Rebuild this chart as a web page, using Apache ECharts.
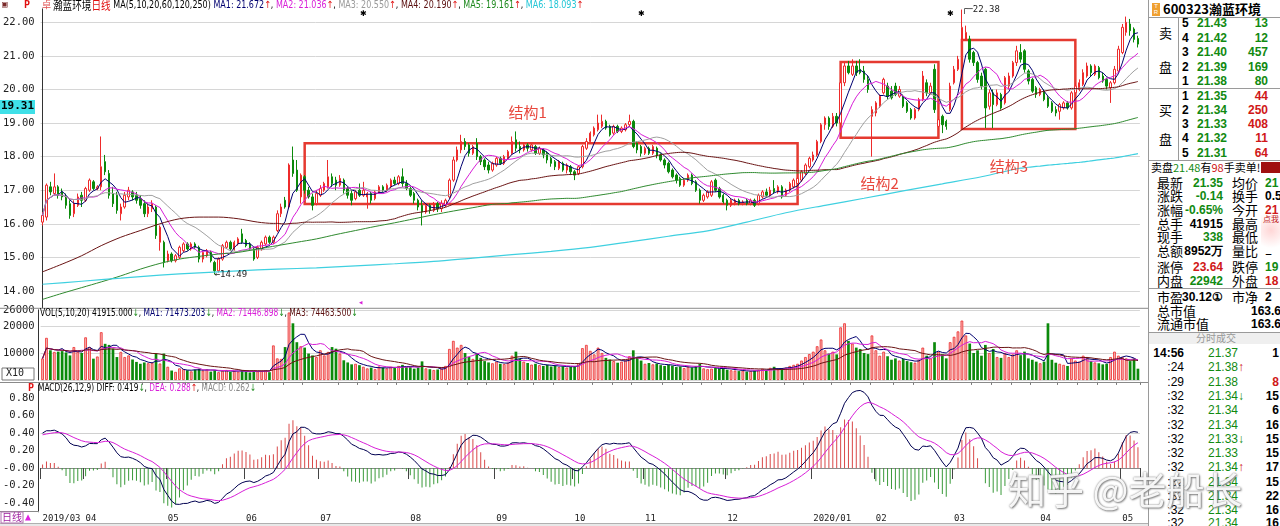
<!DOCTYPE html>
<html>
<head>
<meta charset="utf-8">
<script src="https://cdn.jsdelivr.net/npm/echarts@6.0.0/dist/echarts.min.js"></script>
<style>
*{box-sizing:border-box}
html,body{margin:0;padding:0;width:1280px;height:526px;overflow:hidden;background:#fff}
#chart{position:absolute;left:0;top:0;width:1148px;height:526px}
#side{position:absolute;left:1148px;top:0;width:132px;height:526px;overflow:hidden;border-left:1px solid #9a9a9a;background:#fff;color:#000}
#side .t{position:absolute;white-space:nowrap;line-height:14px;height:14px}
.num{font-family:"Liberation Sans",Arial,sans-serif;font-weight:bold;font-size:12px}
.cjk{font-family:"Noto Sans CJK SC",sans-serif;font-size:13px}
.sm{font-family:"Noto Sans CJK SC",sans-serif;font-size:11px}
#wm{position:absolute;left:1008px;top:460px;font-family:"Noto Sans CJK SC",sans-serif;font-size:38px;color:rgba(255,255,255,0.93);text-shadow:0 0 2px #777,1px 1px 2px #888;white-space:nowrap;z-index:10}
</style>
</head>
<body>
<div id="chart"></div>
<div id="side"></div>
<div id="wm">知乎 @老船长</div>
<script>
// ---------------- DATA ----------------
const months = ['2019/03','04','05','06','07','08','09','10','11','12','2020/01','02','03','04','05'];
const monthDays = [11,21,20,19,23,22,20,18,21,22,16,20,22,21,5];

// [open, close, low, high]
const candles = [
[16.05,16.25,15.95,16.35],[16.2,17.15,16.1,17.2],[17.1,16.95,16.85,17.25],[16.9,17.1,16.85,17.5],[17.1,16.85,16.75,17.15],
[16.95,16.8,16.7,17.05],[16.8,16.55,16.45,16.9],[16.6,16.25,16.15,16.7],[16.3,16.6,16.2,16.7],[16.55,16.8,16.5,16.9],
[16.85,16.7,16.5,16.95],[16.7,17.05,16.65,17.1],[17.0,17.3,16.95,17.35],[17.25,17.05,17.0,17.3],[17.05,17.1,17.0,17.15],
[17.1,17.7,17.0,18.6],[17.85,17.55,17.45,18.05],[17.5,16.85,16.75,17.6],[16.9,16.6,16.5,17.1],[16.85,16.4,16.3,16.95],
[16.3,16.5,16.1,16.6],[16.5,16.85,16.45,16.95],[16.8,17.0,16.7,17.1],[16.95,16.8,16.7,17.0],[16.85,16.7,16.6,16.95],
[16.75,16.55,16.45,16.85],[16.6,16.3,16.2,16.7],[16.3,16.5,16.2,16.6],[16.45,16.6,16.35,16.7],[16.5,15.65,15.55,16.55],
[15.45,15.9,15.2,15.95],[15.45,14.85,14.7,15.5],[14.9,15.1,14.85,15.2],[15.1,14.9,14.85,15.15],[14.9,15.05,14.85,15.1],
[15.0,15.3,14.95,15.35],[15.2,15.4,15.15,15.45],[15.4,15.25,15.2,15.45],[15.25,15.4,15.2,15.45],[15.4,15.3,15.25,15.45],
[15.3,14.95,14.85,15.35],[14.95,15.15,14.85,15.2],[15.05,15.2,15.0,15.25],[15.15,14.9,14.85,15.2],[14.85,14.6,14.49,14.9],
[14.6,14.95,14.55,15.0],[14.95,15.35,14.9,15.4],[15.3,15.45,15.25,15.5],[15.45,15.25,15.2,15.5],[15.25,15.45,15.2,15.5],
[15.4,15.55,15.35,15.6],[15.7,15.45,15.4,15.85],[15.5,15.35,15.3,15.55],[15.4,15.25,15.2,15.45],[15.25,14.95,14.9,15.3],
[15.0,15.3,14.95,15.35],[15.25,15.45,15.2,15.5],[15.4,15.6,15.35,15.65],[15.6,15.45,15.4,15.65],[15.45,15.6,15.4,15.65],
[15.8,16.3,15.75,16.4],[16.3,16.5,16.2,16.6],[16.7,16.5,16.45,16.8],[16.5,17.75,16.45,17.8],[17.9,17.5,17.4,18.3],
[17.6,17.0,16.95,17.9],[16.8,17.45,16.6,17.5],[17.4,17.0,16.9,17.45],[17.0,16.8,16.75,17.1],[16.8,16.55,16.4,16.9],
[16.6,16.9,16.55,17.0],[16.85,17.05,16.8,17.15],[17.0,17.2,16.95,17.25],[17.1,17.4,17.05,17.9],[17.4,17.2,17.1,17.5],
[17.3,17.15,17.0,17.4],[17.15,17.35,17.1,17.45],[17.3,17.0,16.9,17.35],[17.05,16.85,16.75,17.1],[16.9,16.7,16.55,17.0],
[16.75,16.95,16.7,17.0],[17.0,16.85,16.8,17.2],[16.85,17.0,16.8,17.25],[16.8,16.9,16.45,16.95],[16.9,16.7,16.6,16.95],
[16.75,16.95,16.7,17.0],[16.95,17.1,16.9,17.15],[17.1,17.0,16.95,17.15],[17.0,17.15,16.95,17.2],[17.1,17.3,17.05,17.35],
[17.3,17.2,17.15,17.4],[17.2,17.4,17.15,17.45],[17.4,17.2,17.1,17.65],[17.2,17.05,17.0,17.3],[17.05,16.85,16.8,17.1],
[16.9,16.7,16.6,16.95],[16.7,16.5,16.4,16.75],[16.55,16.35,15.95,16.7],[16.35,16.55,16.3,16.6],[16.55,16.4,16.3,16.6],
[16.4,16.6,16.35,16.65],[16.6,16.45,16.35,16.65],[16.45,16.6,16.35,16.7],[16.55,16.7,16.5,16.75],[16.8,17.3,16.75,17.35],
[17.3,17.9,17.25,18.0],[17.9,18.2,17.85,18.3],[18.2,18.45,18.1,18.65],[18.45,18.3,18.2,18.55],[18.35,18.1,18.0,18.4],
[18.1,18.3,18.05,18.35],[18.4,18.0,17.9,18.55],[18.0,17.85,17.75,18.05],[17.9,17.7,17.6,17.95],[17.75,17.6,17.5,17.85],
[17.6,17.8,17.55,17.85],[17.75,17.95,17.7,18.0],[17.95,17.8,17.75,18.0],[17.8,18.0,17.75,18.05],[17.95,18.15,17.9,18.2],
[18.1,18.45,18.05,18.6],[18.5,18.25,18.15,18.75],[18.3,18.2,18.1,18.45],[18.2,18.35,18.15,18.4],[18.35,18.25,18.15,18.4],
[18.2,18.35,18.15,18.4],[18.3,18.1,18.05,18.35],[18.1,18.25,18.05,18.3],[18.2,18.05,17.95,18.25],[18.1,17.9,17.8,18.15],
[17.95,17.8,17.7,18.0],[17.85,17.7,17.6,17.9],[17.65,17.85,17.6,17.9],[17.8,17.6,17.55,17.85],[17.6,17.75,17.5,17.8],
[17.7,17.55,17.45,17.75],[17.55,17.45,17.3,17.6],[17.5,17.7,17.45,17.75],[17.7,18.3,17.65,18.35],[18.25,18.45,18.2,18.55],
[18.45,18.7,18.4,18.75],[18.65,18.85,18.6,18.9],[18.8,19.0,18.75,19.25],[18.9,19.05,18.85,19.25],[19.05,18.85,18.8,19.1],
[18.9,18.65,18.6,18.95],[18.7,18.9,18.65,18.95],[18.9,18.75,18.7,18.95],[18.75,18.85,18.7,18.9],[18.8,18.95,18.75,19.0],
[18.95,19.05,18.9,19.25],[19.05,18.3,18.25,19.1],[18.4,18.2,18.1,18.45],[18.3,18.1,18.0,18.35],[18.1,18.25,18.05,18.3],
[18.25,18.1,18.05,18.3],[18.1,18.3,18.05,18.35],[18.25,18.05,17.95,18.3],[18.05,17.9,17.85,18.1],[17.9,17.75,17.65,17.95],
[17.8,17.55,17.5,17.85],[17.6,17.4,17.35,17.65],[17.45,17.3,17.2,17.5],[17.35,17.15,17.1,17.4],[17.15,17.3,17.1,17.35],
[17.3,17.45,17.25,17.5],[17.45,17.2,17.15,17.5],[17.25,17.0,16.95,17.3],[17.0,16.7,16.6,17.05],[16.7,16.85,16.65,16.9],
[16.8,16.95,16.75,17.0],[16.85,17.25,16.8,17.3],[17.3,17.0,16.95,17.35],[17.05,16.8,16.75,17.1],[16.85,16.65,16.6,16.9],
[16.7,16.55,16.4,16.75],[16.55,16.7,16.5,16.75],[16.6,16.7,16.55,16.75],[16.7,16.6,16.55,16.75],[16.6,16.65,16.55,16.7],
[16.7,16.6,16.55,16.75],[16.6,16.7,16.55,16.75],[16.7,16.55,16.5,16.75],[16.6,16.85,16.55,16.9],[16.8,16.95,16.75,17.0],
[16.95,16.85,16.8,17.05],[16.85,17.0,16.8,17.1],[17.05,16.95,16.9,17.3],[16.95,17.1,16.9,17.15],[17.1,16.8,16.75,17.15],
[16.85,17.0,16.8,17.05],[17.0,17.2,16.95,17.25],[17.1,17.3,17.05,17.35],[17.2,17.35,17.15,17.4],[17.3,17.55,17.25,17.6],
[17.5,17.75,17.45,17.8],[17.7,17.95,17.65,18.0],[17.9,18.05,17.85,18.15],[18.05,18.45,18.0,18.5],[18.45,18.95,18.4,19.0],
[18.95,19.15,18.8,19.2],[19.15,18.9,18.8,19.2],[18.9,19.2,18.85,19.3],[19.2,19.0,18.9,19.3],[19.0,20.2,18.95,20.3],
[20.2,20.7,20.1,20.8],[20.7,20.5,20.45,20.85],[20.45,20.7,20.4,20.9],[20.7,20.5,20.4,20.85],[20.6,20.5,20.45,20.9],
[20.55,20.3,20.2,20.7],[20.3,20.0,19.9,20.4],[19.2,19.4,18.0,19.5],[19.3,19.6,19.2,19.65],[19.5,19.8,19.45,19.85],
[19.9,20.3,19.85,20.35],[20.1,19.8,19.7,20.2],[19.95,19.75,19.7,20.1],[20.1,19.85,19.8,20.2],[19.8,20.0,19.75,20.1],
[19.8,19.5,19.45,19.85],[19.6,19.35,19.3,19.65],[19.4,19.15,19.1,19.45],[19.15,19.4,19.1,19.45],[19.4,19.7,19.35,19.75],
[19.7,20.4,19.65,20.55],[20.2,19.9,19.8,20.3],[19.9,20.1,19.85,20.2],[20.6,19.4,19.3,20.75],[18.9,19.1,18.8,19.2],
[19.2,18.95,18.7,19.25],[19.05,18.9,18.8,19.1],[19.4,20.1,19.35,20.2],[20.2,20.6,20.15,20.7],[20.6,20.9,20.55,21.0],
[21.45,21.85,21.4,22.38],[21.5,21.7,21.45,21.9],[21.5,20.9,20.8,21.6],[21.1,20.8,20.7,21.15],[20.8,20.3,20.2,20.85],
[20.4,20.1,20.0,20.5],[20.6,19.45,18.85,20.65],[19.5,19.9,19.4,20.0],[19.9,19.55,18.85,20.0],[19.55,19.9,19.5,20.0],
[19.85,19.45,19.4,19.9],[19.6,20.35,19.55,20.4],[20.1,20.4,20.0,20.5],[20.4,20.8,20.35,20.85],[20.8,21.15,20.7,21.3],
[21.1,20.9,20.8,21.35],[21.15,20.6,20.5,21.2],[20.55,20.25,20.15,20.6],[20.3,19.95,19.9,20.35],[20.05,19.85,19.75,20.1],
[19.85,20.0,19.8,20.05],[19.95,19.7,19.65,20.0],[19.75,19.5,19.45,19.8],[19.6,19.35,19.3,19.65],[19.4,19.3,19.2,19.5],
[19.35,19.55,19.1,19.6],[19.45,19.6,19.4,19.65],[19.6,19.45,19.4,19.65],[19.45,19.9,19.4,19.95],[19.9,20.1,19.85,20.2],
[20.0,20.2,19.95,20.3],[20.15,20.5,20.1,20.6],[20.4,20.7,20.35,20.8],[20.7,20.5,20.4,20.75],[20.45,20.7,20.4,20.75],
[20.65,20.35,20.3,20.7],[20.4,20.25,20.2,20.5],[20.3,20.1,20.0,20.35],[20.05,20.2,19.6,20.25],[20.2,20.6,20.15,20.7],
[20.55,21.2,20.5,21.3],[21.1,21.85,21.05,21.95],[21.7,22.0,21.6,22.17],[21.95,21.75,21.6,22.1],[21.8,21.49,21.4,21.85],
[21.52,21.35,21.25,21.6]
];

// volume, in the axis unit (x10 hands)
const volumes = [
8000,15600,11000,10400,10500,10700,10200,9100,12200,10400,
10000,15800,12200,7900,8700,17700,13400,13000,11600,8500,
10400,8500,9100,7600,6700,6000,6500,6200,6400,9800,
6100,9800,4900,3500,3000,4300,4000,3600,3200,3800,
4200,3500,3900,3100,3600,2900,3400,3700,3000,3300,
3100,3600,3000,2800,3400,3200,3500,3600,2900,12800,
8000,7800,12200,25000,21000,14000,12500,12000,9800,9100,
8500,11000,9100,10400,12200,11600,9800,7300,6500,5800,
6000,5500,4900,4300,4600,4000,5000,4600,4300,4900,
4500,5200,5600,4800,5000,4200,4600,6900,4300,4000,
3700,3900,4300,5200,11500,14500,12000,13000,10000,8500,
7800,9800,8200,7000,6500,6200,6800,6000,5900,6400,
9000,10500,7800,6800,6300,5700,6000,5500,5200,5600,
5000,5300,4800,5100,4600,4900,5200,6200,11800,13000,
10800,9500,12000,10000,8200,7600,7000,6400,6800,7300,
8800,11000,8500,7200,6000,6300,5800,6100,5500,5200,
5700,5300,4800,5000,4400,4900,4600,5200,6000,4300,
4000,4200,4600,4100,4400,3800,3600,3500,3300,3400,
3100,3300,3500,3800,4200,3600,4500,4900,3900,4300,
4600,5200,5600,6000,7200,8500,9600,10500,12500,15000,
11000,9800,10500,9500,19500,21000,14500,13500,12000,11500,
10000,9600,16500,11000,9000,10500,8800,7500,8000,7200,
7800,7000,6600,6400,7500,12000,9000,8000,14000,10500,
9500,8000,14000,16000,18000,22000,16500,13500,10000,11000,
9000,13000,10000,11500,8500,8200,10000,8500,9500,11000,
9200,10500,8000,7500,6800,6200,6800,21000,7500,6400,
6000,5600,5200,8000,7200,6800,9000,8500,7000,6500,
6200,5800,6000,8500,10500,9000,8500,8000,7000,8045,
4191.5
];

const ma60Early = [[0,14.57],[5,14.8],[10,15.05],[15,15.35],[20,15.6],[25,15.8],[30,16.0],[35,16.15],[40,16.2],[45,16.2],[50,16.15],[55,16.05]];
const ma120Early = [[0,13.75],[5,13.93],[10,14.1],[15,14.27],[20,14.45],[25,14.65],[30,14.82],[35,14.95],[40,15.03],[45,15.1],[50,15.15],[55,15.25],[60,15.35],[65,15.45],[70,15.55],[75,15.68],[80,15.8],[85,15.92],[90,16.03],[95,16.15],[100,16.27],[105,16.38],[110,16.48],[115,16.58]];
const ma250Early = [[0,14.2],[10,14.29],[20,14.38],[30,14.47],[40,14.54],[50,14.6],[60,14.65],[70,14.69],[80,14.75],[90,14.81],[100,14.88],[110,14.98],[120,15.08],[130,15.18],[140,15.3],[150,15.46],[160,15.63],[170,15.79],[180,16.05],[190,16.33],[200,16.55],[210,16.76],[220,16.98],[230,17.19],[240,17.4]];
const macdSeed = {ema12: 16.45, ema26: 16.05, dea: 0.38};

const priceTicks = [22,21,20,19,18,17,16,15,14];
const maLegend = [['MA1','21.672'],['MA2','21.036'],['MA3','20.550'],['MA4','20.190'],['MA5','19.161'],['MA6','18.093']];
const volLegend = ['41915.000','71473.203','71446.898','74463.500'];
const macdLegend = ['0.419','0.288','0.262'];

// boxes: [startBar, endBar, top, bottom]; labels: [bar, price, text]
const boxes = [[67,193,18.4,16.59],[204,229,20.82,18.56],[235,264,21.47,18.82]];
const boxLabels = [[124,19.33,'结构1'],[214,17.22,'结构2'],[247,17.7,'结构3']];
const starBars = [82,153,232];

// side panel
const sellLv = [5,4,3,2,1], sellPx = ['21.43','21.42','21.40','21.39','21.38'], sellVol = ['13','12','457','169','80'];
const buyLv = [1,2,3,4,5], buyPx = ['21.35','21.34','21.33','21.32','21.31'], buyVol = ['44','250','408','11','64'];
const statL1 = ['最新','涨跌','涨幅','总手','现手','总额','涨停','内盘'];
const statV1 = ['21.35','-0.14','-0.65%','41915','338','8952万','23.64','22942'];
const statC1 = ['#118a11','#118a11','#118a11','#000','#118a11','#000','#d01818','#118a11'];
const statL2 = ['均价','换手','今开','最高','最低','量比','跌停','外盘'];
const statV2 = ['21','0.5','21','','2','1','19','18'];
const statC2 = ['#118a11','#000','#d01818','#d01818','#118a11','#000','#118a11','#d01818'];
const tickTimes = ['14:56',':24',':29',':32',':32',':32',':32',':32',':32',':32',':32',':32',':32'];
const tickPx = ['21.37','21.38','21.38','21.34','21.34','21.34','21.33','21.33','21.34','21.34','21.34','21.34','21.34'];
const tickArrow = ['','↑','','↓','','','↓','','↑','','','',''];
const tickVol = ['1','','8','15','6','16','15','15','17','15','22','16','16'];

// ---------------- DERIVED ----------------
const categories = [], monthStart = {}, weekMarks = new Set();
months.forEach((m, mi) => {
  for (let d = 0; d < monthDays[mi]; d++) {
    if (d === 0) monthStart[categories.length] = m;
    else if (d % 5 === 0) weekMarks.add(categories.length);
    categories.push(m + '-' + (d + 1));
  }
});
const N = candles.length;
const closes = candles.map(c => c[1]);
function maPartial(arr, n) {
  return arr.map((_, i) => { let s = 0, c = 0; for (let j = Math.max(0, i - n + 1); j <= i; j++) { s += arr[j]; c++; } return +(s / c).toFixed(3); });
}
function maLong(arr, n, early) {
  const out = early.slice();
  for (let i = n - 1; i < arr.length; i++) { let s = 0; for (let j = i - n + 1; j <= i; j++) s += arr[j]; out.push([i, +(s / n).toFixed(3)]); }
  return out;
}
const ma5 = maPartial(closes, 5), ma10 = maPartial(closes, 10), ma20 = maPartial(closes, 20);
const ma60 = maLong(closes, 60, ma60Early), ma120 = maLong(closes, 120, ma120Early), ma250 = maLong(closes, 250, ma250Early);
const vma5 = maPartial(volumes, 5), vma10 = maPartial(volumes, 10), vma20 = maPartial(volumes, 20);
const diff = [], dea = [], macd = [];
{
  let e12 = macdSeed.ema12, e26 = macdSeed.ema26, d = macdSeed.dea;
  closes.forEach((c, i) => {
    if (i > 0) { e12 = e12 * 11 / 13 + c * 2 / 13; e26 = e26 * 25 / 27 + c * 2 / 27; }
    const df = e12 - e26;
    if (i > 0) d = d * 8 / 10 + df * 2 / 10;
    diff.push(+df.toFixed(4)); dea.push(+d.toFixed(4)); macd.push(+(2 * (df - d)).toFixed(4));
  });
}
const isUp = candles.map(c => c[1] >= c[0]);

// ---------------- CHART ----------------
const UP = '#ee2b2b', DOWN = '#0b8a0b';
const MONO = '"DejaVu Sans Mono", monospace';
const SANS = '"DejaVu Sans",sans-serif';
const CJK = '"Noto Sans CJK SC",sans-serif';
const GRID_L = 38.9, GRID_W = 1101;
const grids = [
  {left: GRID_L, width: GRID_W, top: 8.86, height: 298.9},
  {left: GRID_L, width: GRID_W, top: 309.8, height: 70.2},
  {left: GRID_L, width: GRID_W, top: 384.9, height: 126.9}
];
const chart = echarts.init(document.getElementById('chart'));

const priceSplitColors = ['rgba(0,0,0,0)', '#d6d6d6'];
const macdSplitColors = [];
for (let v = -5; v <= 9; v++) macdSplitColors.push((v === 0 || v === 4) ? '#d0d0d0' : 'rgba(0,0,0,0)');

function richLegend() {
  const cols = ['#000070','#d81ed8','#9a9a9a','#5a0f0f','#1f8a1f','#22c6d6'];
  let text = '{n|瀚蓝环境}{r|日线} {k|MA(5,10,20,60,120,250)} ';
  const rich = {
    n: {font: '12px ' + CJK, fill: '#000'},
    r: {font: '12px ' + CJK, fill: '#e01010'},
    k: {font: '10px ' + SANS, fill: '#000'},
    u: {font: '10px ' + SANS, fill: '#e01010'}
  };
  maLegend.forEach((m, i) => {
    rich['c' + i] = {font: '10px ' + SANS, fill: cols[i]};
    text += '{c' + i + '|' + m[0] + ': ' + m[1] + '}{u|↑}' + (i < maLegend.length - 1 ? '{k|, }' : '');
  });
  return {text, rich};
}
const leg = richLegend();

function macdLabel(v) {
  const t = Math.round(v * 10);
  if (Math.abs(v * 10 - t) > 1e-6 || t % 2 !== 0) return '';
  return t === 0 ? '-0.00' : (t / 10).toFixed(2);
}

const option = {
  animation: false,
  backgroundColor: '#fff',
  grid: grids,
  xAxis: [
    {type: 'category', gridIndex: 0, data: categories, boundaryGap: true, axisLine: {show: false}, axisTick: {show: false}, axisLabel: {show: false}},
    {type: 'value', gridIndex: 0, min: -0.5, max: N - 0.5, show: false},
    {type: 'category', gridIndex: 1, data: categories, boundaryGap: true, axisLine: {show: false}, axisTick: {show: false}, axisLabel: {show: false}},
    {type: 'category', gridIndex: 2, data: categories, boundaryGap: true,
      axisLine: {show: true, lineStyle: {color: '#8a8a8a', width: 1}},
      axisTick: {show: true, length: 11, interval: (i) => monthStart[i] !== undefined, lineStyle: {color: '#444'}},
      axisLabel: {show: true, interval: (i) => monthStart[i] !== undefined, formatter: (v, i) => monthStart[i] || '',
        align: 'left', margin: 2, color: '#222', fontSize: 9, fontFamily: MONO}},
    {type: 'category', gridIndex: 2, data: categories, boundaryGap: true, axisLine: {show: false},
      axisTick: {show: true, length: 3, interval: (i) => weekMarks.has(i), lineStyle: {color: '#777'}}, axisLabel: {show: false}}
  ],
  yAxis: [
    {type: 'value', gridIndex: 0, min: 13.5, max: 22.4, interval: 0.5, offset: 2,
      axisLine: {show: true, lineStyle: {color: '#333'}}, axisTick: {show: false},
      axisLabel: {formatter: v => (Math.abs(v - Math.round(v)) < 1e-6 && priceTicks.includes(Math.round(v))) ? v.toFixed(2) : '', color: '#222', fontSize: 10.5, fontFamily: MONO, margin: 4},
      splitLine: {show: true, lineStyle: {color: priceSplitColors, width: 1}}},
    {type: 'value', gridIndex: 1, min: 0, max: 26000, interval: 10000, offset: 2,
      axisLine: {show: true, lineStyle: {color: '#333'}}, axisTick: {show: false},
      axisLabel: {formatter: v => v === 0 ? '' : String(v), color: '#222', fontSize: 10.5, fontFamily: MONO, margin: 4},
      splitLine: {show: true, lineStyle: {color: '#d6d6d6'}}},
    {type: 'value', gridIndex: 2, min: -0.5, max: 0.95, interval: 0.1, offset: 2,
      axisLine: {show: true, lineStyle: {color: '#333'}}, axisTick: {show: false},
      axisLabel: {formatter: macdLabel, color: '#222', fontSize: 10.5, fontFamily: MONO, margin: 4},
      splitLine: {show: true, lineStyle: {color: macdSplitColors}}}
  ],
  series: [
    {type: 'candlestick', xAxisIndex: 0, yAxisIndex: 0, data: candles, barMaxWidth: 3,
      itemStyle: {color: '#ffffff', borderColor: UP, color0: DOWN, borderColor0: DOWN, borderWidth: 1},
      markArea: {silent: true, itemStyle: {color: 'rgba(0,0,0,0)', borderColor: '#e53a30', borderWidth: 2.5},
        data: boxes.map(b => [{coord: [categories[b[0]], b[2]]}, {coord: [categories[b[1]], b[3]]}])},
      markPoint: {silent: true, symbol: 'circle', symbolSize: 0.01, itemStyle: {color: 'rgba(0,0,0,0)'},
        data: [
          {coord: [categories[44], 14.49], label: {show: true, position: 'right', distance: 0, formatter: '←14.49', color: '#222', fontSize: 9, fontFamily: MONO}},
          {coord: [categories[235], 22.38], label: {show: true, position: 'right', distance: 0, formatter: '┌─22.38', color: '#222', fontSize: 9, fontFamily: MONO}},
          ...starBars.map(b => ({coord: [categories[b], 22.25], label: {show: true, position: 'inside', formatter: '✱', color: '#000', fontSize: 8}})),
          ...boxLabels.map(l => ({coord: [categories[l[0]], l[1]], label: {show: true, position: 'inside', formatter: l[2], color: '#e8473d', fontSize: 15, fontFamily: CJK}}))
        ]}},
    {type: 'line', xAxisIndex: 0, yAxisIndex: 0, data: ma5, symbol: 'none', lineStyle: {color: '#000070', width: 1}, z: 3},
    {type: 'line', xAxisIndex: 0, yAxisIndex: 0, data: ma10, symbol: 'none', lineStyle: {color: '#d81ed8', width: 1}, z: 3},
    {type: 'line', xAxisIndex: 0, yAxisIndex: 0, data: ma20, symbol: 'none', lineStyle: {color: '#a0a0a0', width: 1}, z: 3},
    {type: 'line', xAxisIndex: 1, yAxisIndex: 0, data: ma60, symbol: 'none', smooth: 0.3, lineStyle: {color: '#6a1414', width: 1}, z: 3},
    {type: 'line', xAxisIndex: 1, yAxisIndex: 0, data: ma120, symbol: 'none', smooth: 0.3, lineStyle: {color: '#2f8a2f', width: 1}, z: 3},
    {type: 'line', xAxisIndex: 1, yAxisIndex: 0, data: ma250, symbol: 'none', smooth: 0.3, lineStyle: {color: '#3fd0e0', width: 1.2}, z: 3},
    {type: 'bar', xAxisIndex: 2, yAxisIndex: 1, barMaxWidth: 3,
      data: volumes.map((v, i) => ({value: v, itemStyle: isUp[i] ? {color: '#f6b3b3', borderColor: UP, borderWidth: 0.8} : {color: DOWN}}))},
    {type: 'line', xAxisIndex: 2, yAxisIndex: 1, data: vma5, symbol: 'none', lineStyle: {color: '#000070', width: 1}},
    {type: 'line', xAxisIndex: 2, yAxisIndex: 1, data: vma10, symbol: 'none', lineStyle: {color: '#d81ed8', width: 1}},
    {type: 'line', xAxisIndex: 2, yAxisIndex: 1, data: vma20, symbol: 'none', lineStyle: {color: '#6a1414', width: 1}},
    {type: 'bar', xAxisIndex: 3, yAxisIndex: 2, barWidth: 1,
      data: macd.map(v => ({value: v, itemStyle: {color: v >= 0 ? '#d94848' : '#3a9a3a'}}))},
    {type: 'line', xAxisIndex: 3, yAxisIndex: 2, data: diff, symbol: 'none', lineStyle: {color: '#000050', width: 1}},
    {type: 'line', xAxisIndex: 3, yAxisIndex: 2, data: dea, symbol: 'none', lineStyle: {color: '#d81ed8', width: 1}}
  ],
  graphic: [
    {type: 'line', shape: {x1: 0, y1: 308.3, x2: 1148, y2: 308.3}, style: {stroke: '#8a8a8a', lineWidth: 1}, z: 50},
    {type: 'line', shape: {x1: 0, y1: 382.5, x2: 1148, y2: 382.5}, style: {stroke: '#8a8a8a', lineWidth: 1}, z: 50},
    {type: 'line', shape: {x1: 0, y1: 511.5, x2: 39, y2: 511.5}, style: {stroke: '#8a8a8a', lineWidth: 1}, z: 50},
    {type: 'line', shape: {x1: 0, y1: 523.5, x2: 1148, y2: 523.5}, style: {stroke: '#b0b0b0', lineWidth: 1}, z: 50},
    {type: 'rect', shape: {x: 0, y: 524, width: 1148, height: 2}, style: {fill: '#e8e8e8'}, z: 50},
    {type: 'text', x: 2, y: 0, style: {text: '▣', font: '9px ' + MONO, fill: '#7a2a2a'}, z: 60},
    {type: 'text', x: 24, y: 0, style: {text: 'P', font: 'bold 10px ' + MONO, fill: '#e01010'}, z: 60},
    {type: 'text', x: 42, y: 0, style: {text: '卓', font: '9px ' + CJK, fill: '#e05050'}, z: 60},
    {type: 'text', x: 53, y: -1, scaleX: 0.8, style: {text: leg.text, rich: leg.rich}, z: 60},
    {type: 'rect', shape: {x: 0, y: 100, width: 35, height: 14}, style: {fill: '#3fe0e8'}, z: 60},
    {type: 'text', x: 1, y: 101, style: {text: '19.31', font: 'bold 11px ' + MONO, fill: '#000'}, z: 61},
    {type: 'text', x: 358, y: 298, style: {text: '◂', font: '9px ' + MONO, fill: '#d81ed8'}, z: 60},
    {type: 'text', x: 40, y: 308.5, scaleX: 0.75, style: {
      text: '{k|VOL(5,10,20) ' + volLegend[0] + '}{u|↓}{k|, }{a|MA1: ' + volLegend[1] + '}{u|↓}{k|, }{b|MA2: ' + volLegend[2] + '}{u|↓}{k|, }{c|MA3: ' + volLegend[3] + '}{u|↓}',
      rich: {k: {font: '10px ' + SANS, fill: '#000'}, u: {font: '10px ' + SANS, fill: '#1a8a1a'}, a: {font: '10px ' + SANS, fill: '#000070'}, b: {font: '10px ' + SANS, fill: '#d81ed8'}, c: {font: '10px ' + SANS, fill: '#5a0f0f'}}}, z: 60},
    {type: 'rect', shape: {x: 2, y: 368, width: 32, height: 12}, style: {fill: '#fff', stroke: '#777', lineWidth: 1}, z: 60},
    {type: 'text', x: 6, y: 368.5, style: {text: 'X10', font: '10px ' + MONO, fill: '#222'}, z: 61},
    {type: 'text', x: 28, y: 383, style: {text: 'P', font: 'bold 10px ' + MONO, fill: '#e01010'}, z: 60},
    {type: 'text', x: 38, y: 383.5, scaleX: 0.74, style: {
      text: '{k|MACD(26,12,9) DIFF: ' + macdLegend[0] + '}{g|↓}{k|, }{b|DEA: ' + macdLegend[1] + '}{u|↑}{k|, }{c|MACD: ' + macdLegend[2] + '}{g|↓}',
      rich: {k: {font: '10px ' + SANS, fill: '#000'}, u: {font: '10px ' + SANS, fill: '#e01010'}, g: {font: '10px ' + SANS, fill: '#1a8a1a'}, b: {font: '10px ' + SANS, fill: '#d81ed8'}, c: {font: '10px ' + SANS, fill: '#888'}}}, z: 60},
    {type: 'rect', shape: {x: 1, y: 512, width: 22, height: 11}, style: {fill: '#fff', stroke: '#b070b0', lineWidth: 1}, z: 60},
    {type: 'text', x: 2, y: 512, style: {text: '日线', font: '10px ' + CJK, fill: '#a020a0'}, z: 61},
    {type: 'text', x: 25, y: 512.5, style: {text: '▲', font: '10px ' + MONO, fill: '#e020e0'}, z: 61}
  ]
};
chart.setOption(option);

// ---------------- SIDE PANEL ----------------
const side = document.getElementById('side');
function put(x, y, html, cls, align, color) {
  const d = document.createElement('div');
  d.className = 't ' + (cls || '');
  d.innerHTML = html;
  d.style.top = (y - 7) + 'px';
  if (align === 'right') d.style.right = (1280 - x) + 'px';
  else d.style.left = (x - 1148) + 'px';
  if (color) d.style.color = color;
  side.appendChild(d);
  return d;
}
function hline(y, x1, x2, c) { const d = document.createElement('div'); d.style.cssText = `position:absolute;left:${x1 - 1148}px;top:${y}px;width:${x2 - x1}px;height:1px;background:${c || '#9a9a9a'}`; side.appendChild(d); }
function vline(x, y1, y2, c) { const d = document.createElement('div'); d.style.cssText = `position:absolute;left:${x - 1148}px;top:${y1}px;width:1px;height:${y2 - y1}px;background:${c || '#9a9a9a'}`; side.appendChild(d); }

const ic = document.createElement('div');
ic.style.cssText = 'position:absolute;left:3px;top:3px;width:8px;height:13px;background:#f0a030;font:6px sans-serif;color:#fff;line-height:6px;text-align:center';
ic.innerHTML = 'T<br>R'; side.appendChild(ic);
const hd = put(1162, 9, '600323瀚蓝环境', '', 'left');
hd.style.font = 'bold 13px "Noto Sans CJK SC",sans-serif';
hd.style.lineHeight = '16px'; hd.style.height = '16px'; hd.style.top = '1px';
hline(17, 1148, 1280);
vline(1177, 17, 160);
hline(88, 1148, 1280);
hline(160, 1148, 1280);
put(1158, 33, '卖', 'cjk');
put(1158, 67, '盘', 'cjk');
put(1158, 110, '买', 'cjk');
put(1158, 139, '盘', 'cjk');
const sellY = [23, 38, 52, 67, 81], buyY = [96, 110, 124, 138, 153];
sellLv.forEach((lv, i) => {
  put(1181, sellY[i], String(lv), 'num', 'left', '#000');
  put(1227, sellY[i], sellPx[i], 'num', 'right', '#118a11');
  put(1268, sellY[i], sellVol[i], 'num', 'right', '#118a11');
});
buyLv.forEach((lv, i) => {
  put(1181, buyY[i], String(lv), 'num', 'left', '#000');
  put(1227, buyY[i], buyPx[i], 'num', 'right', '#118a11');
  put(1268, buyY[i], buyVol[i], 'num', 'right', '#d01818');
});
put(1150, 167, '卖盘<span style="color:#118a11">21.48</span>有<span style="color:#d01818">98</span>手卖单!', 'sm');
const btn = document.createElement('div');
btn.style.cssText = 'position:absolute;left:112px;top:162px;width:22px;height:11px;background:#a01010';
side.appendChild(btn);
const statY = [183, 196, 210, 224, 237, 251, 267, 281];
statL1.forEach((l, i) => {
  put(1156, statY[i], l, 'cjk');
  put(1223, statY[i], statV1[i], 'num', 'right', statC1[i]);
  put(1231, statY[i], statL2[i], 'cjk');
  if (statV2[i]) put(1264, statY[i], statV2[i], 'num', 'left', statC2[i]);
});
const pop = document.createElement('div');
pop.style.cssText = 'position:absolute;left:112px;top:214px;width:20px;height:40px;background:radial-gradient(circle at 50% 40%,#ffd6d6,#fff 70%);';
side.appendChild(pop);
put(1262, 219, '点我', 'sm', 'left', '#c02020').style.fontSize = '8px';
hline(288, 1148, 1280);
put(1156, 297, '市盈', 'cjk');
put(1223, 297, '30.12①', 'num', 'right', '#000');
put(1231, 297, '市净', 'cjk');
put(1264, 297, '2', 'num', 'left', '#000');
put(1156, 311, '总市值', 'cjk');
put(1250, 311, '163.60', 'num', 'left', '#000');
put(1156, 324, '流通市值', 'cjk');
put(1250, 324, '163.60', 'num', 'left', '#000');
hline(332, 1148, 1280);
const hdr = document.createElement('div');
hdr.style.cssText = 'position:absolute;left:0;top:333px;width:132px;height:11px;background:#efefef';
side.appendChild(hdr);
put(1195, 338, '分时成交', 'sm', 'left', '#999').style.fontSize = '10px';
const tickY = [353, 367, 382, 396, 410, 425, 439, 453, 467, 482, 496, 510, 523];
tickTimes.forEach((t, i) => {
  put(1184, tickY[i], t, 'num', 'right', '#000').style.fontWeight = i === 0 ? 'bold' : 'normal';
  const a = tickArrow[i] ? `<span style="color:${tickArrow[i] === '↑' ? '#d01818' : '#118a11'}">${tickArrow[i]}</span>` : '';
  put(1207, tickY[i], tickPx[i] + a, 'num', 'left', '#118a11').style.fontWeight = 'normal';
  if (tickVol[i]) put(1279, tickY[i], tickVol[i], 'num', 'right', i === 2 ? '#d01818' : '#000');
});
</script>
</body>
</html>
